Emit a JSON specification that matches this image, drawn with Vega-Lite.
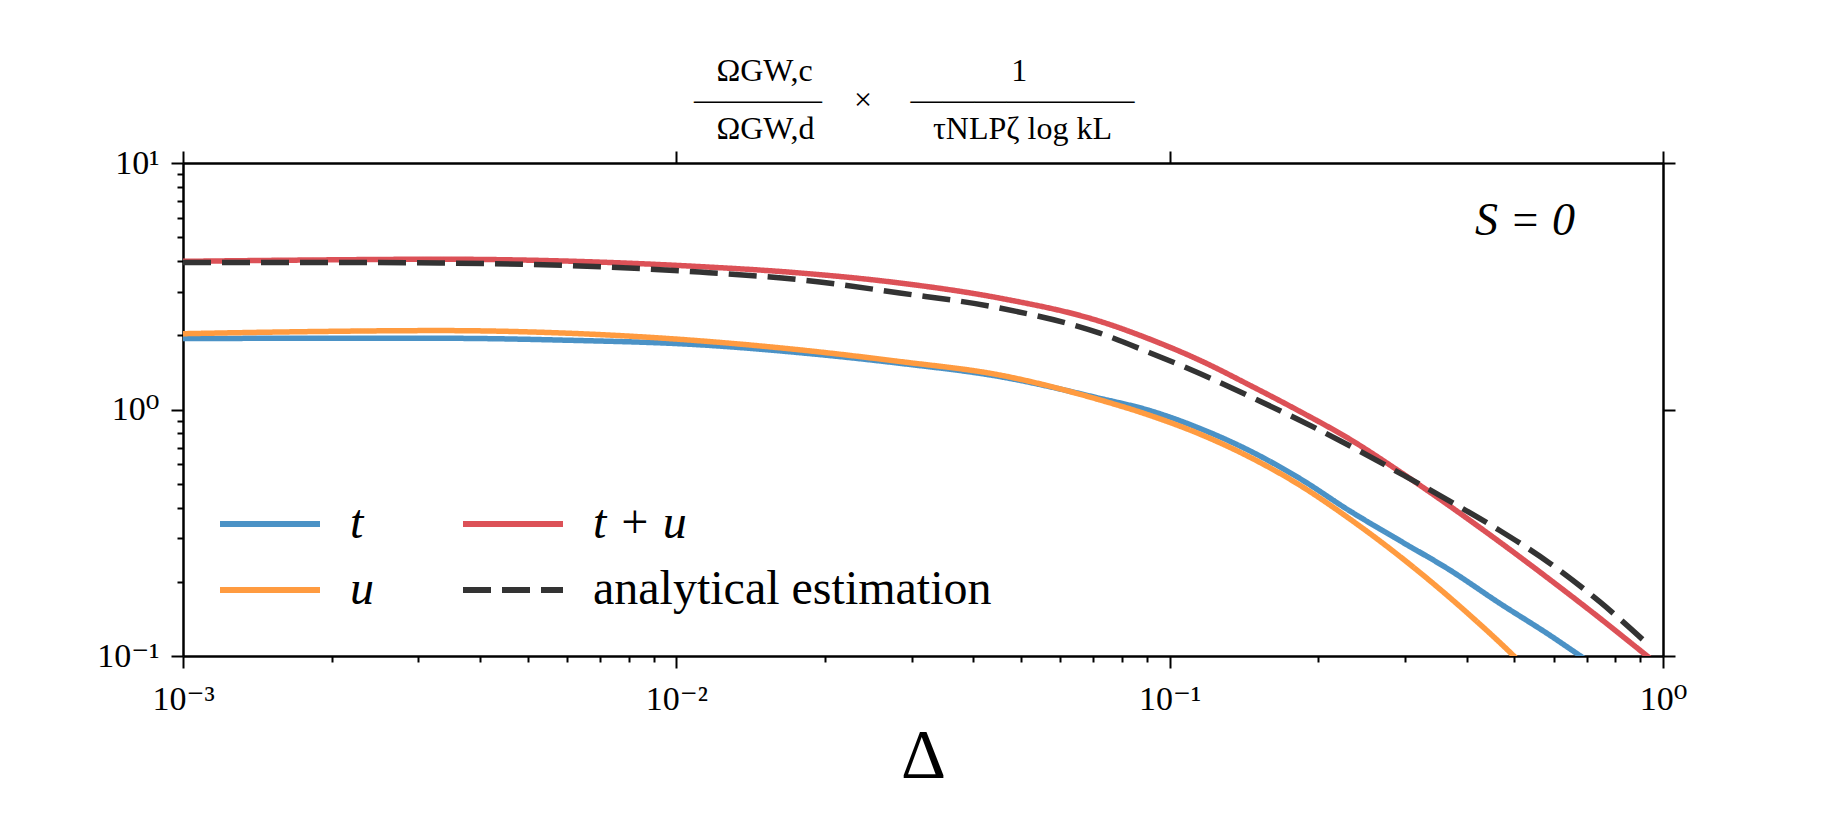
{
  "$schema": "https://vega.github.io/schema/vega-lite/v6.json",
  "width": 1480,
  "height": 493,
  "autosize": "none",
  "padding": {"left": 183, "top": 163, "right": 158, "bottom": 176},
  "background": "white",
  "config": {"font": "Liberation Serif, DejaVu Serif, serif", "view": {"stroke": null}},
  "title": {
    "text": [
      "\u200b\u2002\u2009ΩGW,c\u2003\u2003\u2003\u2003\u2003\u2003\u20091",
      "————\u2003×\u2003\u2009———————",
      "\u200b\u2002\u2009ΩGW,d\u2003\u2003\u2003\u2002\u2009τNLPζ log kL"
    ],
    "fontSize": 32,
    "font": "Liberation Serif, DejaVu Serif, serif",
    "fontWeight": "normal",
    "color": "black",
    "lineHeight": 29,
    "offset": 0,
    "anchor": "start",
    "frame": "group",
    "dx": 511
  },
  "data": {
    "values": [
      {"Delta": 0.001, "value": 1.94, "series": "t"},
      {"Delta": 0.0018, "value": 1.945, "series": "t"},
      {"Delta": 0.00331, "value": 1.945, "series": "t"},
      {"Delta": 0.006, "value": 1.91, "series": "t"},
      {"Delta": 0.01115, "value": 1.83, "series": "t"},
      {"Delta": 0.01779, "value": 1.7, "series": "t"},
      {"Delta": 0.02836, "value": 1.54, "series": "t"},
      {"Delta": 0.04524, "value": 1.36, "series": "t"},
      {"Delta": 0.07216, "value": 1.11, "series": "t"},
      {"Delta": 0.0911, "value": 0.99, "series": "t"},
      {"Delta": 0.1151, "value": 0.838, "series": "t"},
      {"Delta": 0.1453, "value": 0.68, "series": "t"},
      {"Delta": 0.1835, "value": 0.525, "series": "t"},
      {"Delta": 0.2317, "value": 0.388, "series": "t"},
      {"Delta": 0.2926, "value": 0.294, "series": "t"},
      {"Delta": 0.3695, "value": 0.2234, "series": "t"},
      {"Delta": 0.4667, "value": 0.1636, "series": "t"},
      {"Delta": 0.5894, "value": 0.1215, "series": "t"},
      {"Delta": 0.678, "value": 0.1005, "series": "t"},
      {"Delta": 0.72, "value": 0.0927, "series": "t"},

      {"Delta": 0.001, "value": 2.03, "series": "u"},
      {"Delta": 0.0018, "value": 2.07, "series": "u"},
      {"Delta": 0.00331, "value": 2.09, "series": "u"},
      {"Delta": 0.006, "value": 2.04, "series": "u"},
      {"Delta": 0.01115, "value": 1.9, "series": "u"},
      {"Delta": 0.01779, "value": 1.746, "series": "u"},
      {"Delta": 0.02836, "value": 1.566, "series": "u"},
      {"Delta": 0.04524, "value": 1.38, "series": "u"},
      {"Delta": 0.07216, "value": 1.094, "series": "u"},
      {"Delta": 0.0911, "value": 0.947, "series": "u"},
      {"Delta": 0.1151, "value": 0.795, "series": "u"},
      {"Delta": 0.1453, "value": 0.641, "series": "u"},
      {"Delta": 0.1835, "value": 0.4935, "series": "u"},
      {"Delta": 0.2317, "value": 0.36, "series": "u"},
      {"Delta": 0.2926, "value": 0.2538, "series": "u"},
      {"Delta": 0.316, "value": 0.2244, "series": "u"},
      {"Delta": 0.4, "value": 0.1503, "series": "u"},
      {"Delta": 0.497, "value": 0.1006, "series": "u"},
      {"Delta": 0.52, "value": 0.092, "series": "u"},

      {"Delta": 0.001, "value": 3.99, "series": "t + u"},
      {"Delta": 0.0018, "value": 4.04, "series": "t + u"},
      {"Delta": 0.00331, "value": 4.07, "series": "t + u"},
      {"Delta": 0.006, "value": 4.0, "series": "t + u"},
      {"Delta": 0.01115, "value": 3.8, "series": "t + u"},
      {"Delta": 0.01779, "value": 3.58, "series": "t + u"},
      {"Delta": 0.02836, "value": 3.26, "series": "t + u"},
      {"Delta": 0.04524, "value": 2.83, "series": "t + u"},
      {"Delta": 0.07216, "value": 2.28, "series": "t + u"},
      {"Delta": 0.0911, "value": 1.93, "series": "t + u"},
      {"Delta": 0.1151, "value": 1.584, "series": "t + u"},
      {"Delta": 0.1453, "value": 1.255, "series": "t + u"},
      {"Delta": 0.1835, "value": 0.983, "series": "t + u"},
      {"Delta": 0.2317, "value": 0.758, "series": "t + u"},
      {"Delta": 0.2926, "value": 0.56, "series": "t + u"},
      {"Delta": 0.3695, "value": 0.406, "series": "t + u"},
      {"Delta": 0.4667, "value": 0.29, "series": "t + u"},
      {"Delta": 0.5894, "value": 0.2044, "series": "t + u"},
      {"Delta": 0.744, "value": 0.1426, "series": "t + u"},
      {"Delta": 0.91, "value": 0.1033, "series": "t + u"},
      {"Delta": 0.96, "value": 0.0948, "series": "t + u"},

      {"Delta": 0.001, "value": 3.95, "series": "analytical estimation"},
      {"Delta": 0.0018, "value": 3.95, "series": "analytical estimation"},
      {"Delta": 0.00331, "value": 3.93, "series": "analytical estimation"},
      {"Delta": 0.006, "value": 3.84, "series": "analytical estimation"},
      {"Delta": 0.01115, "value": 3.61, "series": "analytical estimation"},
      {"Delta": 0.01779, "value": 3.36, "series": "analytical estimation"},
      {"Delta": 0.02836, "value": 2.97, "series": "analytical estimation"},
      {"Delta": 0.04524, "value": 2.58, "series": "analytical estimation"},
      {"Delta": 0.07216, "value": 2.04, "series": "analytical estimation"},
      {"Delta": 0.0911, "value": 1.7, "series": "analytical estimation"},
      {"Delta": 0.1151, "value": 1.4, "series": "analytical estimation"},
      {"Delta": 0.1453, "value": 1.13, "series": "analytical estimation"},
      {"Delta": 0.1835, "value": 0.905, "series": "analytical estimation"},
      {"Delta": 0.2317, "value": 0.713, "series": "analytical estimation"},
      {"Delta": 0.2926, "value": 0.552, "series": "analytical estimation"},
      {"Delta": 0.3695, "value": 0.425, "series": "analytical estimation"},
      {"Delta": 0.4667, "value": 0.323, "series": "analytical estimation"},
      {"Delta": 0.5894, "value": 0.238, "series": "analytical estimation"},
      {"Delta": 0.744, "value": 0.166, "series": "analytical estimation"},
      {"Delta": 0.93, "value": 0.112, "series": "analytical estimation"}
    ]
  },
  "layer": [
    {
      "mark": {"type": "line", "strokeWidth": 5.5, "clip": true, "interpolate": "monotone"},
      "encoding": {
        "x": {
          "field": "Delta", "type": "quantitative",
          "scale": {"type": "log", "domain": [0.001, 1], "nice": false},
          "axis": {
            "orient": "bottom",
            "values": [0.001, 0.002, 0.003, 0.004, 0.005, 0.006, 0.007, 0.008, 0.009, 0.01, 0.02, 0.03, 0.04, 0.05, 0.06, 0.07, 0.08, 0.09, 0.1, 0.2, 0.3, 0.4, 0.5, 0.6, 0.7, 0.8, 0.9, 1],
            "labelExpr": "datum.value == 0.001 ? '10⁻³' : datum.value == 0.01 ? '10⁻²' : datum.value == 0.1 ? '10⁻¹' : datum.value == 1 ? '10⁰' : ''",
            "tickSize": {"condition": {"test": "datum.value == 0.001 || datum.value == 0.01 || datum.value == 0.1 || datum.value == 1", "value": 12}, "value": 6},
            "tickWidth": 2, "tickColor": "black",
            "domainColor": "black", "domainWidth": 2.5,
            "labelFontSize": 34, "labelColor": "black",
            "labelPadding": 14, "labelOverlap": false, "labelFlush": false, "labelBound": false,
            "grid": false,
            "title": "Δ", "titleFontSize": 70, "titleFontWeight": "normal", "titleColor": "black", "titlePadding": 6
          }
        },
        "y": {
          "field": "value", "type": "quantitative",
          "scale": {"type": "log", "domain": [0.1, 10], "nice": false},
          "axis": {
            "orient": "left",
            "values": [0.1, 0.2, 0.3, 0.4, 0.5, 0.6, 0.7, 0.8, 0.9, 1, 2, 3, 4, 5, 6, 7, 8, 9, 10],
            "labelExpr": "datum.value == 0.1 ? '10⁻¹' : datum.value == 1 ? '10⁰' : datum.value == 10 ? '10¹' : ''",
            "tickSize": {"condition": {"test": "datum.value == 0.1 || datum.value == 1 || datum.value == 10", "value": 12}, "value": 6},
            "tickWidth": 2, "tickColor": "black",
            "domainColor": "black", "domainWidth": 2.5,
            "labelFontSize": 34, "labelColor": "black",
            "labelPadding": 12, "labelOverlap": false, "labelFlush": false, "labelBound": false,
            "grid": false, "title": null
          }
        },
        "color": {
          "field": "series", "type": "nominal",
          "scale": {
            "domain": ["t", "u", "t + u", "analytical estimation"],
            "range": ["#4b92c6", "#ff9b40", "#dc5157", "#333333"]
          },
          "legend": {
            "title": null,
            "orient": "none",
            "legendX": 59,
            "legendY": 333,
            "columns": 2,
            "columnPadding": 77,
            "rowPadding": 14,
            "padding": 0,
            "symbolType": "M-2,0H2",
            "symbolSize": 2500,
            "symbolStrokeWidth": 6,
            "symbolFillColor": "transparent",
            "labelFontSize": 48,
            "labelFont": "Liberation Serif, DejaVu Serif, serif",
            "labelColor": "black",
            "labelOffset": 52,
            "labelLimit": 600,
            "encode": {"labels": {"update": {"fontStyle": {"signal": "datum.label == 'analytical estimation' ? 'normal' : 'italic'"}}}}
          }
        },
        "strokeDash": {
          "field": "series", "type": "nominal",
          "scale": {
            "domain": ["t", "u", "t + u", "analytical estimation"],
            "range": [[1, 0], [1, 0], [1, 0], [28, 11]]
          },
          "legend": {"title": null}
        }
      }
    },
    {
      "mark": {"type": "point", "opacity": 0},
      "encoding": {
        "x": {
          "field": "Delta", "type": "quantitative",
          "axis": {
            "orient": "top", "values": [0.001, 0.01, 0.1, 1], "labels": false,
            "tickSize": 12, "tickWidth": 2, "tickColor": "black",
            "domainColor": "black", "domainWidth": 2.5, "grid": false, "title": null
          }
        },
        "y": {
          "field": "value", "type": "quantitative",
          "axis": {
            "orient": "right", "values": [0.1, 1, 10], "labels": false,
            "tickSize": 12, "tickWidth": 2, "tickColor": "black",
            "domainColor": "black", "domainWidth": 2.5, "grid": false, "title": null
          }
        }
      }
    },
    {
      "data": {"values": [{"Delta": 0.525, "value": 5.8, "label": "S = 0"}]},
      "mark": {"type": "text", "fontSize": 46, "font": "Liberation Serif, DejaVu Serif, serif", "fontStyle": "italic", "color": "black", "align": "center", "baseline": "middle"},
      "encoding": {
        "x": {"field": "Delta", "type": "quantitative", "axis": null},
        "y": {"field": "value", "type": "quantitative", "axis": null},
        "text": {"field": "label"}
      }
    }
  ],
  "resolve": {"axis": {"x": "independent", "y": "independent"}}
}
